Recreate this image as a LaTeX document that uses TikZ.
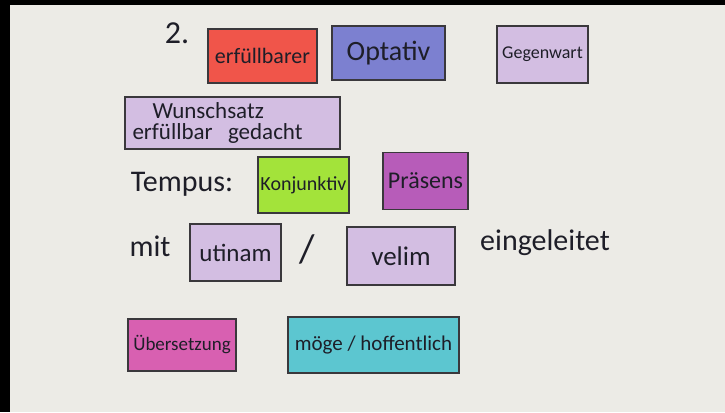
\documentclass[tikz,border=0pt]{standalone}
\usepackage{fontspec}
\setmainfont{Carlito}
\definecolor{bg}{HTML}{ECEBE6}
\definecolor{cerf}{HTML}{F0554A}
\definecolor{copt}{HTML}{7C80D0}
\definecolor{clav}{HTML}{D3BEE2}
\definecolor{ckonj}{HTML}{A3E33A}
\definecolor{cpras}{HTML}{B75CB9}
\definecolor{cueb}{HTML}{D860B1}
\definecolor{cmoe}{HTML}{5CC6D0}
\definecolor{edge}{HTML}{3A383C}
\definecolor{ink}{HTML}{1E1E28}
\tikzset{
  card/.style={draw=edge, line width=1.6pt, rectangle, inner sep=0pt, text=ink, font=\fontsize{23}{25}\selectfont},
  hand/.style={text=ink, inner sep=0pt, font=\fontsize{30}{32}\selectfont}
}
\begin{document}
\begin{tikzpicture}[x=1pt,y=-1pt]
\useasboundingbox (0,0) rectangle (725,412);
\fill[bg] (0,0) rectangle (725,412);
\fill[black] (0,0) rectangle (10,412);
\fill[black] (0,0) rectangle (725,5);
% cards
\node[card, fill=cerf, minimum width=109pt, minimum height=54pt, font=\fontsize{22}{24}\selectfont] (erf) at (262.5,56) {erfüllbarer};
\node[card, fill=copt, minimum width=113pt, minimum height=54pt, font=\fontsize{28}{30}\selectfont] (opt) at (388.5,53) {Optativ};
\node[card, fill=clav, minimum width=91pt, minimum height=57pt, font=\fontsize{18}{20}\selectfont] (geg) at (542.5,54.5) {Gegenwart};
\node[card, fill=clav, minimum width=215pt, minimum height=52pt, text width=200pt, align=left, font=\fontsize{23}{21}\selectfont] (wun) at (232.5,123) {\hspace*{20pt}Wunschsatz\\erfüllbar \ gedacht};
\node[card, fill=ckonj, minimum width=91pt, minimum height=56pt, font=\fontsize{20}{22}\selectfont] (konj) at (303.5,185) {Konjunktiv};
\node[card, fill=cpras, minimum width=85pt, minimum height=57pt, font=\fontsize{24}{26}\selectfont] (pras) at (425.5,181) {Präsens};
\node[card, fill=clav, minimum width=91pt, minimum height=57pt, font=\fontsize{25}{27}\selectfont] (uti) at (235.5,252.5) {utinam};
\node[card, fill=clav, minimum width=108pt, minimum height=58pt, font=\fontsize{27}{29}\selectfont] (vel) at (401,256) {velim};
\node[card, fill=cueb, minimum width=108pt, minimum height=52pt, font=\fontsize{19}{21}\selectfont] (ueb) at (182,345) {Übersetzung};
\node[card, fill=cmoe, minimum width=171pt, minimum height=56pt, font=\fontsize{21}{23}\selectfont] (moe) at (373.5,345) {möge / hoffentlich};
% free text
\node[hand, font=\fontsize{32}{34}\selectfont] (num) at (177,33) {2.};
\node[hand] (tempus) at (182,184) {Tempus:};
\node[hand] (mit) at (150,246) {mit};
\node[hand, font=\fontsize{40}{42}\selectfont] (slash) at (307,249) {/};
\node[hand] (eing) at (545,243) {eingeleitet};
\end{tikzpicture}
\end{document}
